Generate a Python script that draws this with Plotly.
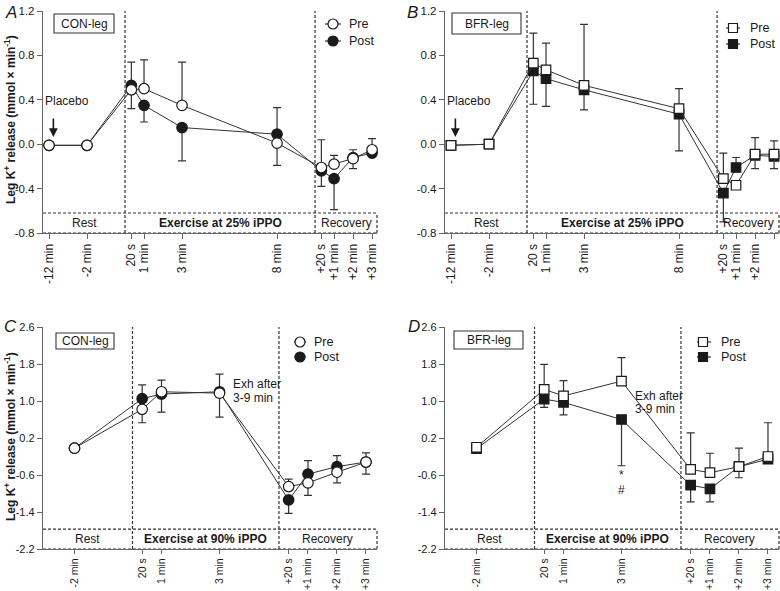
import plotly.graph_objects as go

W, H = 780, 591
FONT = "Liberation Sans, Arial, Helvetica, sans-serif"
INK = "#1a1a1a"
AXC = "#666666"

# ---------------- time points ----------------
top_labels = ["-12 min", "-2 min", "20 s", "1 min", "3 min", "8 min",
              "+20 s", "+1 min", "+2 min", "+3 min"]
top_phase = ["rest", "rest", "ex", "ex", "ex", "ex", "rec", "rec", "rec", "rec"]
top_time = [-12, -2, 1 / 3, 1, 3, 8, 1 / 3, 1, 2, 3]

bot_labels = ["-2 min", "20 s", "1 min", "3 min", "+20 s", "+1 min", "+2 min", "+3 min"]
bot_phase = ["rest", "ex", "ex", "ex", "rec", "rec", "rec", "rec"]
bot_time = [-2, 1 / 3, 1, 3, 1 / 3, 1, 2, 3]

# ---------------- Panel A: CON-leg, 25% iPPO ----------------
pre_A = [-0.01, -0.01, 0.49, 0.50, 0.35, 0.01, -0.21, -0.18, -0.13, -0.05]
post_A = [-0.01, -0.01, 0.53, 0.35, 0.15, 0.09, -0.24, -0.31, -0.12, -0.08]
pre_A_up = [0.02, 0.02, 0.0, 0.26, 0.39, 0.0, 0.25, 0.08, 0.08, 0.10]
pre_A_dn = [0.0, 0.0, 0.0, 0.0, 0.0, 0.20, 0.0, 0.0, 0.09, 0.0]
post_A_up = [0.0, 0.0, 0.21, 0.0, 0.0, 0.24, 0.0, 0.0, 0.0, 0.0]
post_A_dn = [0.02, 0.02, 0.21, 0.15, 0.30, 0.0, 0.14, 0.28, 0.0, 0.03]

# ---------------- Panel B: BFR-leg, 25% iPPO ----------------
pre_B = [-0.01, 0.00, 0.73, 0.67, 0.53, 0.32, -0.31, -0.37, -0.09, -0.09]
post_B = [-0.01, 0.00, 0.66, 0.59, 0.49, 0.27, -0.44, -0.21, -0.10, -0.11]
pre_B_up = [0.02, 0.03, 0.27, 0.24, 0.55, 0.18, 0.23, 0.0, 0.15, 0.12]
pre_B_dn = [0.0, 0.0, 0.0, 0.0, 0.0, 0.0, 0.0, 0.0, 0.13, 0.13]
post_B_up = [0.0, 0.0, 0.0, 0.0, 0.0, 0.0, 0.0, 0.09, 0.0, 0.0]
post_B_dn = [0.02, 0.02, 0.30, 0.25, 0.18, 0.33, 0.26, 0.0, 0.0, 0.0]

# ---------------- Panel C: CON-leg, 90% iPPO ----------------
pre_C = [-0.02, 0.82, 1.20, 1.17, -0.85, -0.77, -0.54, -0.32]
post_C = [-0.02, 1.05, 1.15, 1.20, -1.14, -0.58, -0.42, -0.32]
pre_C_up = [0.0, 0.0, 0.25, 0.0, 0.16, 0.0, 0.0, 0.20]
pre_C_dn = [0.0, 0.29, 0.0, 0.52, 0.0, 0.27, 0.23, 0.26]
post_C_up = [0.0, 0.30, 0.0, 0.38, 0.0, 0.29, 0.24, 0.0]
post_C_dn = [0.0, 0.0, 0.39, 0.0, 0.29, 0.0, 0.0, 0.0]

# ---------------- Panel D: BFR-leg, 90% iPPO ----------------
pre_D = [0.00, 1.25, 1.11, 1.43, -0.48, -0.55, -0.42, -0.20]
post_D = [-0.03, 1.04, 0.97, 0.60, -0.82, -0.90, -0.42, -0.26]
pre_D_up = [0.0, 0.54, 0.33, 0.51, 0.79, 0.42, 0.40, 0.73]
pre_D_dn = [0.0, 0.0, 0.0, 0.0, 0.0, 0.0, 0.0, 0.0]
post_D_up = [0.0, 0.0, 0.0, 0.0, 0.0, 0.0, 0.0, 0.0]
post_D_dn = [0.0, 0.18, 0.27, 1.00, 0.36, 0.28, 0.24, 0.07]

top_yticks = [-0.8, -0.4, 0.0, 0.4, 0.8, 1.2]
top_yticktext = ["-0.8", "-0.4", "0.0", "0.4", "0.8", "1.2"]
bot_yticks = [-2.2, -1.4, -0.6, 0.2, 1.0, 1.8, 2.6]
bot_yticktext = ["-2.2", "-1.4", "-0.6", "0.2", "1.0", "1.8", "2.6"]

# ---------------- axis mapping (broken time axis) ----------------
TOP_EX_END = 10.0
BOT_EX_END = 5.05


def top_pos(phase, t):
    if phase == "rest":
        return -2 + (t + 2) * 0.2
    if phase == "ex":
        return t
    return TOP_EX_END + t


def bot_pos(phase, t):
    if phase == "rest":
        return t
    if phase == "ex":
        return t
    return BOT_EX_END + t


top_x = [top_pos(p, t) for p, t in zip(top_phase, top_time)]
bot_x = [bot_pos(p, t) for p, t in zip(bot_phase, bot_time)]

TOP_XR = [-4.316, 13.26]
BOT_XR = [-3.086, 8.43]


def pxx(x):
    return x / W


def pyy(y):
    return 1 - y / H


fig = go.Figure()


def add_series(xs, ys, up, dn, name, sym, fill, ax):
    fig.add_trace(go.Scatter(
        x=xs, y=ys, name=name, mode="lines+markers",
        xaxis="x" + ("" if ax == 1 else str(ax)),
        yaxis="y" + ("" if ax == 1 else str(ax)),
        line=dict(color="#333333", width=1),
        marker=dict(symbol=sym, size=10.5 if sym == "circle" else 9.5, color=fill,
                    line=dict(color=INK, width=1.2)),
        error_y=dict(type="data", symmetric=False, array=up, arrayminus=dn,
                     color="#333333", thickness=1.2, width=4),
        showlegend=False, cliponaxis=False,
    ))


panels = [
    (1, top_x, pre_A, pre_A_up, pre_A_dn, post_A, post_A_up, post_A_dn, "circle"),
    (2, top_x, pre_B, pre_B_up, pre_B_dn, post_B, post_B_up, post_B_dn, "square"),
    (3, bot_x, pre_C, pre_C_up, pre_C_dn, post_C, post_C_up, post_C_dn, "circle"),
    (4, bot_x, pre_D, pre_D_up, pre_D_dn, post_D, post_D_up, post_D_dn, "square"),
]
for ax, xs, pre, pu, pd, post, qu, qd, sym in panels:
    add_series(xs, post, qu, qd, "Post", sym, INK, ax)
    add_series(xs, pre, pu, pd, "Pre", sym, "white", ax)

# ---------------- layout / axes ----------------
LEFT_DOM = [43 / W, 377 / W]
RIGHT_DOM = [445 / W, 779 / W]
TOP_DOM = [pyy(233), pyy(11)]
BOT_DOM = [pyy(549), pyy(327)]


def xax(dom, anchor, rng, vals, texts, fs, tl):
    return dict(domain=dom, anchor=anchor, range=rng, tickvals=vals, ticktext=texts,
                tickangle=-90, ticks="outside", ticklen=tl, tickwidth=1.2, tickcolor=AXC,
                showline=True, linecolor=AXC, linewidth=1.2, showgrid=False,
                zeroline=False, tickfont=dict(family=FONT, size=fs, color=INK),
                fixedrange=True, automargin=False)


def yax(dom, anchor, rng, vals, texts, fs):
    return dict(domain=dom, anchor=anchor, range=rng, tickvals=vals, ticktext=texts,
                ticks="outside", ticklen=5, tickwidth=1.2, tickcolor=AXC,
                showline=True, linecolor=AXC, linewidth=1.4, showgrid=False,
                zeroline=False, tickfont=dict(family=FONT, size=fs, color=INK),
                fixedrange=True, automargin=False)


fig.update_layout(
    width=W, height=H, margin=dict(l=0, r=0, t=0, b=0, pad=0, autoexpand=False),
    paper_bgcolor="white", plot_bgcolor="white",
    font=dict(family=FONT, size=12, color=INK),
    xaxis=xax(LEFT_DOM, "y", TOP_XR, top_x, top_labels, 12, 5),
    yaxis=yax(TOP_DOM, "x", [-0.8, 1.2], top_yticks, top_yticktext, 11.5),
    xaxis2=xax(RIGHT_DOM, "y2", TOP_XR, top_x, top_labels, 12, 5),
    yaxis2=yax(TOP_DOM, "x2", [-0.8, 1.2], top_yticks, top_yticktext, 11.5),
    xaxis3=xax(LEFT_DOM, "y3", BOT_XR, bot_x, bot_labels, 10.5, 4),
    yaxis3=yax(BOT_DOM, "x3", [-2.2, 2.6], bot_yticks, bot_yticktext, 11),
    xaxis4=xax(RIGHT_DOM, "y4", BOT_XR, bot_x, bot_labels, 10.5, 4),
    yaxis4=yax(BOT_DOM, "x4", [-2.2, 2.6], bot_yticks, bot_yticktext, 11),
)

shapes = []
annots = []
DASH = dict(color="#333333", width=1.2, dash="3px,2px")


def note(**kw):
    d = dict(showarrow=False, xanchor="center", yanchor="middle")
    d.update(kw)
    annots.append(d)


panel_cfg = [
    (1, TOP_EX_END, -0.62, -0.8, -0.71, "Exercise at 25% iPPO", TOP_XR),
    (2, TOP_EX_END, -0.62, -0.8, -0.71, "Exercise at 25% iPPO", TOP_XR),
    (3, BOT_EX_END, -1.77, -2.2, -1.985, "Exercise at 90% iPPO", BOT_XR),
    (4, BOT_EX_END, -1.77, -2.2, -1.985, "Exercise at 90% iPPO", BOT_XR),
]
for ax, ex_end, btop, ymin, ly, extext, xr in panel_cfg:
    xr_ = "x" + ("" if ax == 1 else str(ax))
    yr_ = "y" + ("" if ax == 1 else str(ax))
    for xv in (0, ex_end):
        shapes.append(dict(type="line", xref=xr_, yref=yr_ + " domain", x0=xv, x1=xv,
                           y0=0, y1=1, line=DASH, layer="below"))
    shapes.append(dict(type="line", xref=xr_ + " domain", yref=yr_, x0=0, x1=1,
                       y0=btop, y1=btop, line=DASH))
    shapes.append(dict(type="line", xref=xr_ + " domain", yref=yr_, x0=1, x1=1,
                       y0=ymin, y1=btop, line=DASH))
    shapes.append(dict(type="line", xref=xr_ + " domain", yref=yr_, x0=0, x1=1,
                       y0=ymin, y1=ymin, line=DASH))
    note(x=(xr[0] + 0) / 2, y=ly, xref=xr_, yref=yr_, text="Rest",
         font=dict(size=12, color=INK))
    note(x=ex_end / 2, y=ly, xref=xr_, yref=yr_, text="<b>" + extext + "</b>",
         font=dict(size=12, color=INK))
    note(x=(ex_end + xr[1]) / 2, y=ly, xref=xr_, yref=yr_, text="Recovery",
         font=dict(size=12, color=INK))

# Placebo arrows (panels A and B)
for ax in (1, 2):
    xr_ = "x" + ("" if ax == 1 else str(ax))
    yr_ = "y" + ("" if ax == 1 else str(ax))
    note(x=-3.06, y=0.39, xref=xr_, yref=yr_, text="Placebo",
         font=dict(size=12, color=INK))
    annots.append(dict(x=-3.77, y=0.065, xref=xr_, yref=yr_, text="", showarrow=True,
                       ax=0, ay=-20, arrowhead=2, arrowsize=1.1, arrowwidth=1.6,
                       arrowcolor=INK))

# "Exh after 3-9 min"
for ax, x, y1, y2 in ((3, 3.4, 1.37, 1.06), (4, 3.41, 1.11, 0.83)):
    xr_ = "x" + str(ax)
    yr_ = "y" + str(ax)
    note(x=x, y=y1, xref=xr_, yref=yr_, text="Exh after", xanchor="left",
         font=dict(size=12, color=INK))
    note(x=x, y=y2, xref=xr_, yref=yr_, text="3-9 min", xanchor="left",
         font=dict(size=12, color=INK))

# significance marks in D at 3 min
note(x=3, y=-0.60, xref="x4", yref="y4", text="*", font=dict(size=12, color=INK))
note(x=3, y=-0.93, xref="x4", yref="y4", text="#", font=dict(size=12, color=INK))

# panel letters
for txt, x, y in (("A", 10.5, 12.5), ("B", 412, 12.5), ("C", 10, 326.5), ("D", 414, 326.5)):
    note(x=pxx(x), y=pyy(y), xref="paper", yref="paper", text="<i>" + txt + "</i>",
         font=dict(size=17, color=INK))

# y-axis titles
ylab = "<b>Leg K<sup>+</sup> release (mmol × min<sup>-1</sup>)</b>"
for yc in (120, 437):
    note(x=pxx(10), y=pyy(yc), xref="paper", yref="paper", text=ylab,
         textangle=-90, font=dict(size=12, color=INK))

# condition boxes
for txt, x0, x1, y0, y1 in (("CON-leg", 54, 114, 14, 33), ("BFR-leg", 452, 521, 13, 34),
                            ("CON-leg", 56, 114, 333, 349), ("BFR-leg", 454, 523, 331, 349)):
    shapes.append(dict(type="rect", xref="paper", yref="paper", x0=pxx(x0), x1=pxx(x1),
                       y0=pyy(y1), y1=pyy(y0), line=dict(color="#333333", width=1.1),
                       fillcolor="white"))
    note(x=pxx((x0 + x1) / 2), y=pyy((y0 + y1) / 2), xref="paper", yref="paper",
         text=txt, font=dict(size=12, color=INK))

# legends (manual glyphs)
legs = [
    (333, 325, 341, 347, 24, 41, "circle"),
    (733, 726, 740, 748, 28, 44, "square"),
    (300, 294, 306, 312, 342, 357, "circle"),
    (703, 697, 711, 719, 342, 357, "square"),
]
for mx, lx0, lx1, tx, ypre, ypost, sym in legs:
    for yv, fill, name in ((ypre, "white", "Pre"), (ypost, INK, "Post")):
        shapes.append(dict(type="line", xref="paper", yref="paper", x0=pxx(lx0), x1=pxx(lx1),
                           y0=pyy(yv), y1=pyy(yv), line=dict(color="#333333", width=1.2)))
        half = 5 if sym == "circle" else 4.5
        shapes.append(dict(type="circle" if sym == "circle" else "rect",
                           xref="paper", yref="paper", xsizemode="pixel", ysizemode="pixel",
                           xanchor=pxx(mx), yanchor=pyy(yv), x0=-half, x1=half, y0=-half, y1=half,
                           fillcolor=fill, line=dict(color=INK, width=1.2)))
        note(x=pxx(tx), y=pyy(yv), xref="paper", yref="paper", text=name,
             xanchor="left", font=dict(size=12.5, color=INK))

fig.update_layout(shapes=shapes, annotations=annots)
fig.write_html("out.html", config={"displayModeBar": False},
               post_script="document.body.style.margin='0px';document.body.style.padding='0px';")
